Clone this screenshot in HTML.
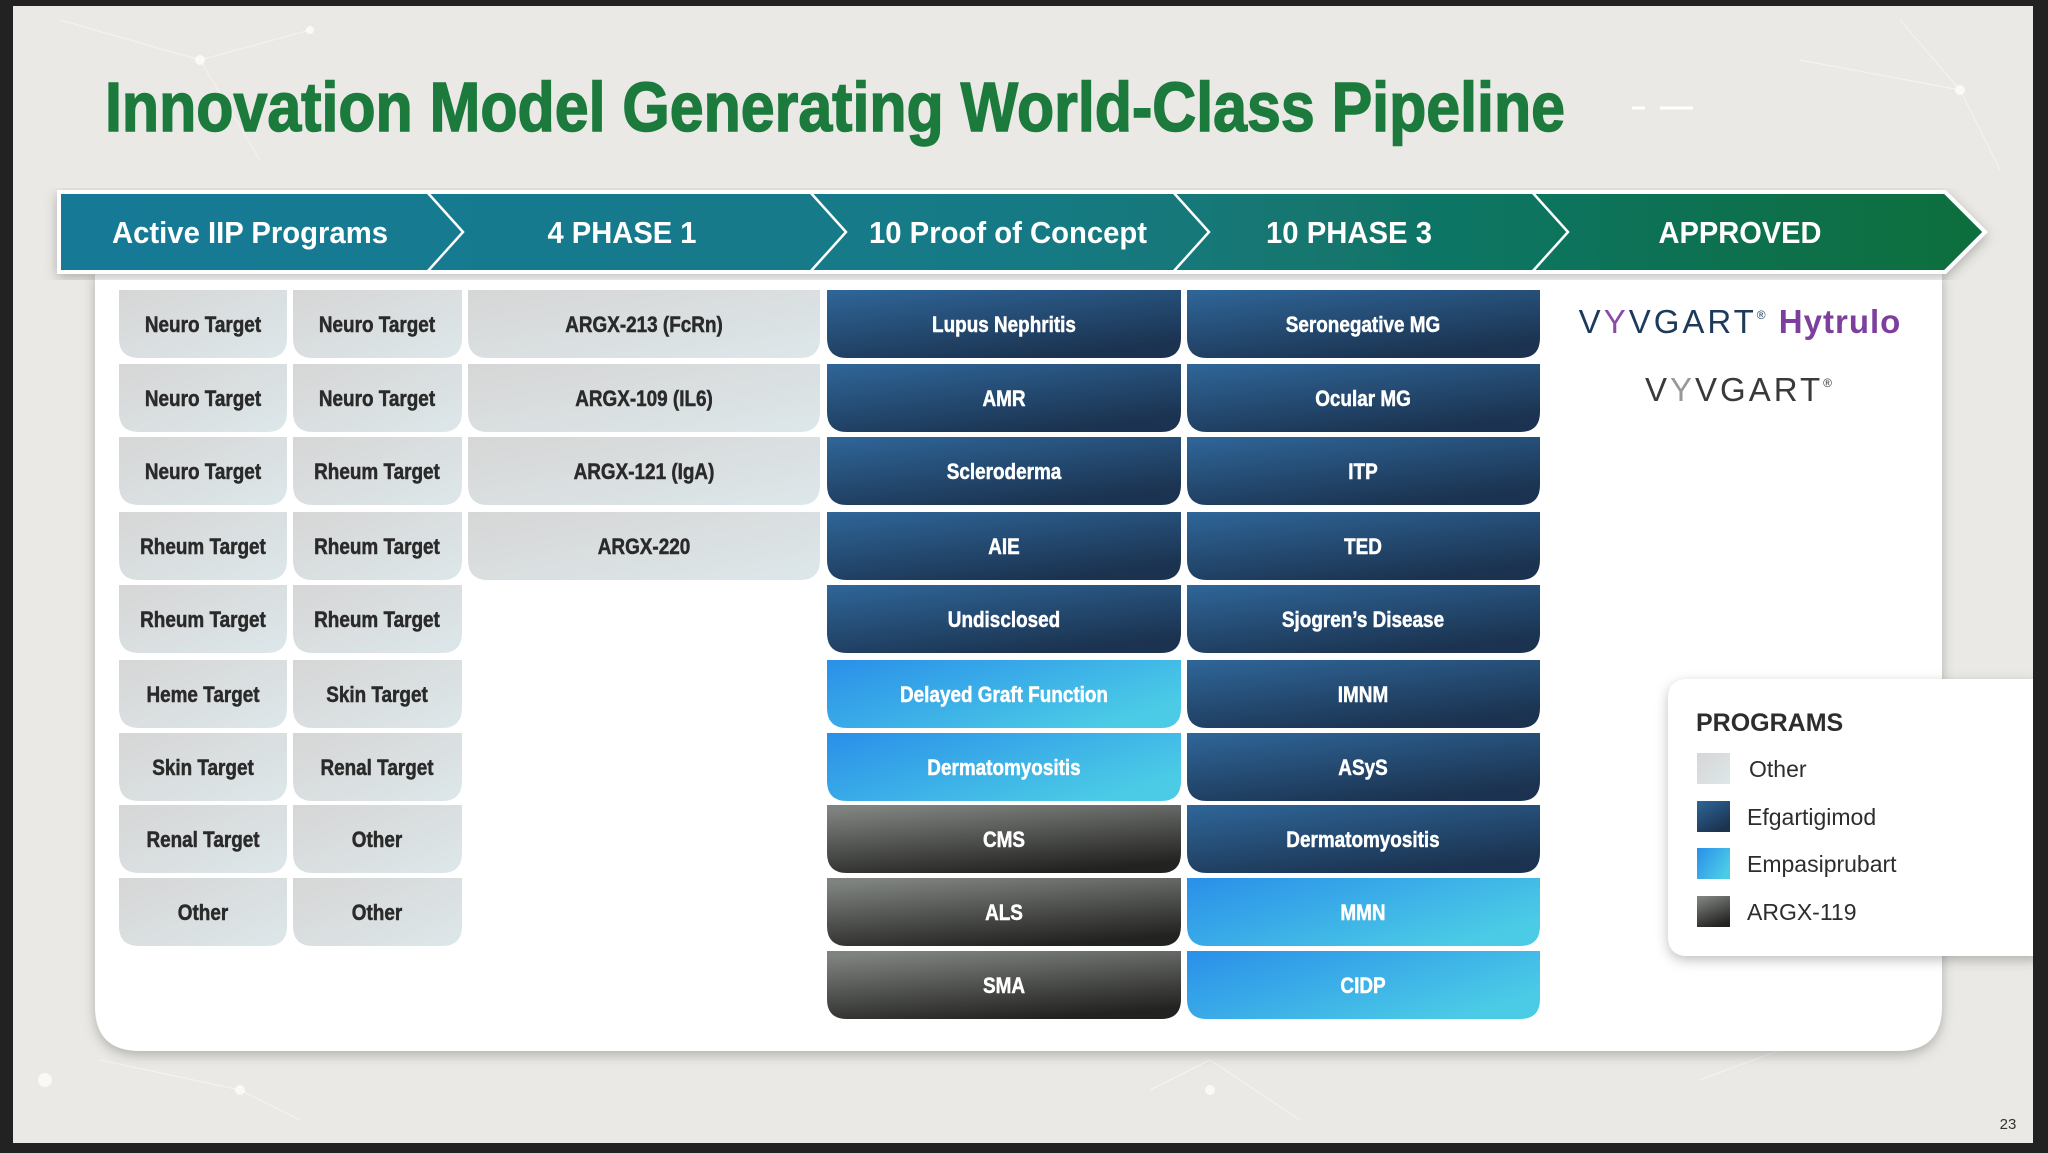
<!DOCTYPE html>
<html><head><meta charset="utf-8"><style>
html,body{margin:0;padding:0;background:#222;}
svg{display:block}
text{font-family:"Liberation Sans",Arial,sans-serif;}
</style></head><body>
<svg width="2048" height="1153" viewBox="0 0 2048 1153" xmlns="http://www.w3.org/2000/svg" xmlns:xlink="http://www.w3.org/1999/xlink">
<defs>
<linearGradient id="ban" x1="0" y1="0" x2="1" y2="0">
<stop offset="0" stop-color="#177a97"/><stop offset="0.5" stop-color="#167a85"/><stop offset="1" stop-color="#0a6e3c"/>
</linearGradient>
<linearGradient id="gr" x1="0" y1="0" x2="1" y2="1">
<stop offset="0" stop-color="#d6d6d6"/><stop offset="1" stop-color="#dde7ea"/>
</linearGradient>
<linearGradient id="db" x1="0" y1="0" x2="0.6" y2="1">
<stop offset="0" stop-color="#2f6699"/><stop offset="1" stop-color="#1b3350"/>
</linearGradient>
<linearGradient id="lb" x1="0" y1="0" x2="1" y2="0.6">
<stop offset="0" stop-color="#2a8fe9"/><stop offset="1" stop-color="#4bcbe6"/>
</linearGradient>
<linearGradient id="dk" x1="0.2" y1="0" x2="0.6" y2="1">
<stop offset="0" stop-color="#7f837f"/><stop offset="1" stop-color="#222220"/>
</linearGradient>
<filter id="sh" x="-5%" y="-5%" width="110%" height="115%"><feDropShadow dx="0" dy="4" stdDeviation="6" flood-color="#000" flood-opacity="0.25"/></filter>
<path id="c0" d="M0 0 H168 V48 Q168 68 148 68 H20 Q0 68 0 48 Z"/>
<path id="c1" d="M0 0 H169 V48 Q169 68 149 68 H20 Q0 68 0 48 Z"/>
<path id="c2" d="M0 0 H352 V48 Q352 68 332 68 H20 Q0 68 0 48 Z"/>
<path id="c3" d="M0 0 H354 V48 Q354 68 334 68 H20 Q0 68 0 48 Z"/>
<path id="c4" d="M0 0 H353 V48 Q353 68 333 68 H20 Q0 68 0 48 Z"/>
</defs>
<rect x="0" y="0" width="2048" height="1153" fill="#222"/>
<rect x="13" y="6" width="2020" height="1137" fill="#eae9e5"/>
<g stroke="#fff" stroke-opacity="0.5" stroke-width="1" fill="none">
<path d="M60 20 L200 60 L260 160 M200 60 L310 30 M1800 60 L1960 90 L2000 170 M1900 20 L1960 90 M100 1060 L240 1090 L300 1120 M1150 1090 L1210 1060 L1300 1120 M1700 1080 L1780 1050"/>
</g>
<g fill="#fff" opacity="0.7"><circle cx="200" cy="60" r="5"/><circle cx="310" cy="30" r="4"/><circle cx="1960" cy="90" r="5"/><circle cx="240" cy="1090" r="5"/><circle cx="1210" cy="1090" r="5"/><circle cx="45" cy="1080" r="7"/></g>
<text x="105" y="131" font-size="70" font-weight="bold" fill="#1b7a3c" stroke="#1b7a3c" stroke-width="1.5" textLength="1460" lengthAdjust="spacingAndGlyphs">Innovation Model Generating World-Class Pipeline</text>
<g stroke="#fff" stroke-width="3"><line x1="1632" y1="108" x2="1645" y2="108"/><line x1="1660" y1="108" x2="1693" y2="108"/></g>

<path d="M95 272 H1942 V1006 Q1942 1051 1897 1051 H140 Q95 1051 95 1006 Z" fill="#fff" filter="url(#sh)"/>

<path d="M59 192 H1945 L1985 232 L1945 272 H59 Z" fill="url(#ban)" stroke="#fff" stroke-width="4" filter="url(#sh)"/>
<g stroke="#fff" stroke-width="2.5" fill="none">
<path d="M427 192 L463 232 L427 272"/><path d="M810 192 L846 232 L810 272"/><path d="M1173 192 L1209 232 L1173 272"/><path d="M1532 192 L1568 232 L1532 272"/>
</g>
<g font-size="31" font-weight="bold" fill="#fff" text-anchor="middle">
<text x="250" y="243" textLength="276" lengthAdjust="spacingAndGlyphs">Active IIP Programs</text>
<text x="622" y="243" textLength="149" lengthAdjust="spacingAndGlyphs">4 PHASE 1</text>
<text x="1008" y="243" textLength="278" lengthAdjust="spacingAndGlyphs">10 Proof of Concept</text>
<text x="1349" y="243" textLength="166" lengthAdjust="spacingAndGlyphs">10 PHASE 3</text>
<text x="1740" y="243" textLength="163" lengthAdjust="spacingAndGlyphs">APPROVED</text>
</g>

<g fill="url(#gr)">
<use xlink:href="#c0" href="#c0" x="119" y="290"/><use xlink:href="#c0" href="#c0" x="119" y="364"/><use xlink:href="#c0" href="#c0" x="119" y="437"/><use xlink:href="#c0" href="#c0" x="119" y="512"/><use xlink:href="#c0" href="#c0" x="119" y="585"/><use xlink:href="#c0" href="#c0" x="119" y="660"/><use xlink:href="#c0" href="#c0" x="119" y="733"/><use xlink:href="#c0" href="#c0" x="119" y="805"/><use xlink:href="#c0" href="#c0" x="119" y="878"/>
<use xlink:href="#c1" href="#c1" x="293" y="290"/><use xlink:href="#c1" href="#c1" x="293" y="364"/><use xlink:href="#c1" href="#c1" x="293" y="437"/><use xlink:href="#c1" href="#c1" x="293" y="512"/><use xlink:href="#c1" href="#c1" x="293" y="585"/><use xlink:href="#c1" href="#c1" x="293" y="660"/><use xlink:href="#c1" href="#c1" x="293" y="733"/><use xlink:href="#c1" href="#c1" x="293" y="805"/><use xlink:href="#c1" href="#c1" x="293" y="878"/>
<use xlink:href="#c2" href="#c2" x="468" y="290"/><use xlink:href="#c2" href="#c2" x="468" y="364"/><use xlink:href="#c2" href="#c2" x="468" y="437"/><use xlink:href="#c2" href="#c2" x="468" y="512"/>
</g>
<g fill="url(#db)">
<use xlink:href="#c3" href="#c3" x="827" y="290"/><use xlink:href="#c3" href="#c3" x="827" y="364"/><use xlink:href="#c3" href="#c3" x="827" y="437"/><use xlink:href="#c3" href="#c3" x="827" y="512"/><use xlink:href="#c3" href="#c3" x="827" y="585"/>
<use xlink:href="#c4" href="#c4" x="1187" y="290"/><use xlink:href="#c4" href="#c4" x="1187" y="364"/><use xlink:href="#c4" href="#c4" x="1187" y="437"/><use xlink:href="#c4" href="#c4" x="1187" y="512"/><use xlink:href="#c4" href="#c4" x="1187" y="585"/><use xlink:href="#c4" href="#c4" x="1187" y="660"/><use xlink:href="#c4" href="#c4" x="1187" y="733"/><use xlink:href="#c4" href="#c4" x="1187" y="805"/>
</g>
<g fill="url(#lb)">
<use xlink:href="#c3" href="#c3" x="827" y="660"/><use xlink:href="#c3" href="#c3" x="827" y="733"/>
<use xlink:href="#c4" href="#c4" x="1187" y="878"/><use xlink:href="#c4" href="#c4" x="1187" y="951"/>
</g>
<g fill="url(#dk)">
<use xlink:href="#c3" href="#c3" x="827" y="805"/><use xlink:href="#c3" href="#c3" x="827" y="878"/><use xlink:href="#c3" href="#c3" x="827" y="951"/>
</g>

<g font-size="22" font-weight="bold" text-anchor="middle" fill="#2a2a2a" stroke="#2a2a2a" stroke-width="0.5">
<text transform="translate(203,332) scale(0.86,1)">Neuro Target</text>
<text transform="translate(203,406) scale(0.86,1)">Neuro Target</text>
<text transform="translate(203,479) scale(0.86,1)">Neuro Target</text>
<text transform="translate(203,554) scale(0.86,1)">Rheum Target</text>
<text transform="translate(203,627) scale(0.86,1)">Rheum Target</text>
<text transform="translate(203,702) scale(0.86,1)">Heme Target</text>
<text transform="translate(203,775) scale(0.86,1)">Skin Target</text>
<text transform="translate(203,847) scale(0.86,1)">Renal Target</text>
<text transform="translate(203,920) scale(0.86,1)">Other</text>
<text transform="translate(377,332) scale(0.86,1)">Neuro Target</text>
<text transform="translate(377,406) scale(0.86,1)">Neuro Target</text>
<text transform="translate(377,479) scale(0.86,1)">Rheum Target</text>
<text transform="translate(377,554) scale(0.86,1)">Rheum Target</text>
<text transform="translate(377,627) scale(0.86,1)">Rheum Target</text>
<text transform="translate(377,702) scale(0.86,1)">Skin Target</text>
<text transform="translate(377,775) scale(0.86,1)">Renal Target</text>
<text transform="translate(377,847) scale(0.86,1)">Other</text>
<text transform="translate(377,920) scale(0.86,1)">Other</text>
<text transform="translate(644,332) scale(0.86,1)">ARGX-213 (FcRn)</text>
<text transform="translate(644,406) scale(0.86,1)">ARGX-109 (IL6)</text>
<text transform="translate(644,479) scale(0.86,1)">ARGX-121 (IgA)</text>
<text transform="translate(644,554) scale(0.86,1)">ARGX-220</text>
</g>
<g font-size="22" font-weight="bold" text-anchor="middle" fill="#fff" stroke="#fff" stroke-width="0.5">
<text transform="translate(1004,332) scale(0.86,1)">Lupus Nephritis</text>
<text transform="translate(1004,406) scale(0.86,1)">AMR</text>
<text transform="translate(1004,479) scale(0.86,1)">Scleroderma</text>
<text transform="translate(1004,554) scale(0.86,1)">AIE</text>
<text transform="translate(1004,627) scale(0.86,1)">Undisclosed</text>
<text transform="translate(1004,702) scale(0.86,1)">Delayed Graft Function</text>
<text transform="translate(1004,775) scale(0.86,1)">Dermatomyositis</text>
<text transform="translate(1004,847) scale(0.86,1)">CMS</text>
<text transform="translate(1004,920) scale(0.86,1)">ALS</text>
<text transform="translate(1004,993) scale(0.86,1)">SMA</text>
<text transform="translate(1363,332) scale(0.86,1)">Seronegative MG</text>
<text transform="translate(1363,406) scale(0.86,1)">Ocular MG</text>
<text transform="translate(1363,479) scale(0.86,1)">ITP</text>
<text transform="translate(1363,554) scale(0.86,1)">TED</text>
<text transform="translate(1363,627) scale(0.86,1)">Sjogren’s Disease</text>
<text transform="translate(1363,702) scale(0.86,1)">IMNM</text>
<text transform="translate(1363,775) scale(0.86,1)">ASyS</text>
<text transform="translate(1363,847) scale(0.86,1)">Dermatomyositis</text>
<text transform="translate(1363,920) scale(0.86,1)">MMN</text>
<text transform="translate(1363,993) scale(0.86,1)">CIDP</text>
</g>

<text x="1740" y="333" font-size="33" text-anchor="middle" letter-spacing="3" fill="#1d3a5c">V<tspan fill="#8a4aa8">Y</tspan>VGART<tspan font-size="12" dy="-14">®</tspan><tspan dy="14" font-weight="bold" fill="#7d3f9e" letter-spacing="1"> Hytrulo</tspan></text>
<text x="1740" y="401" font-size="33" text-anchor="middle" letter-spacing="3" fill="#3a3a3a">V<tspan fill="#999">Y</tspan>VGART<tspan font-size="12" dy="-14">®</tspan></text>

<path d="M1688 679 H2040 V956 H1688 Q1668 956 1668 936 V699 Q1668 679 1688 679 Z" fill="#fff" filter="url(#sh)"/>
<rect x="2033" y="670" width="15" height="300" fill="#222"/>
<text x="1696" y="731" font-size="25" font-weight="bold" fill="#2d2d2d">PROGRAMS</text>
<rect x="1697" y="753" width="33" height="31" fill="url(#gr)"/>
<rect x="1697" y="801" width="33" height="31" fill="url(#db)"/>
<rect x="1697" y="848" width="33" height="31" fill="url(#lb)"/>
<rect x="1697" y="896" width="33" height="31" fill="url(#dk)"/>
<g font-size="23" fill="#2d2d2d">
<text x="1749" y="777">Other</text>
<text x="1747" y="825">Efgartigimod</text>
<text x="1747" y="872">Empasiprubart</text>
<text x="1747" y="920">ARGX-119</text>
</g>
<text x="2008" y="1129" font-size="15" fill="#333" text-anchor="middle">23</text>
</svg>
</body></html>
